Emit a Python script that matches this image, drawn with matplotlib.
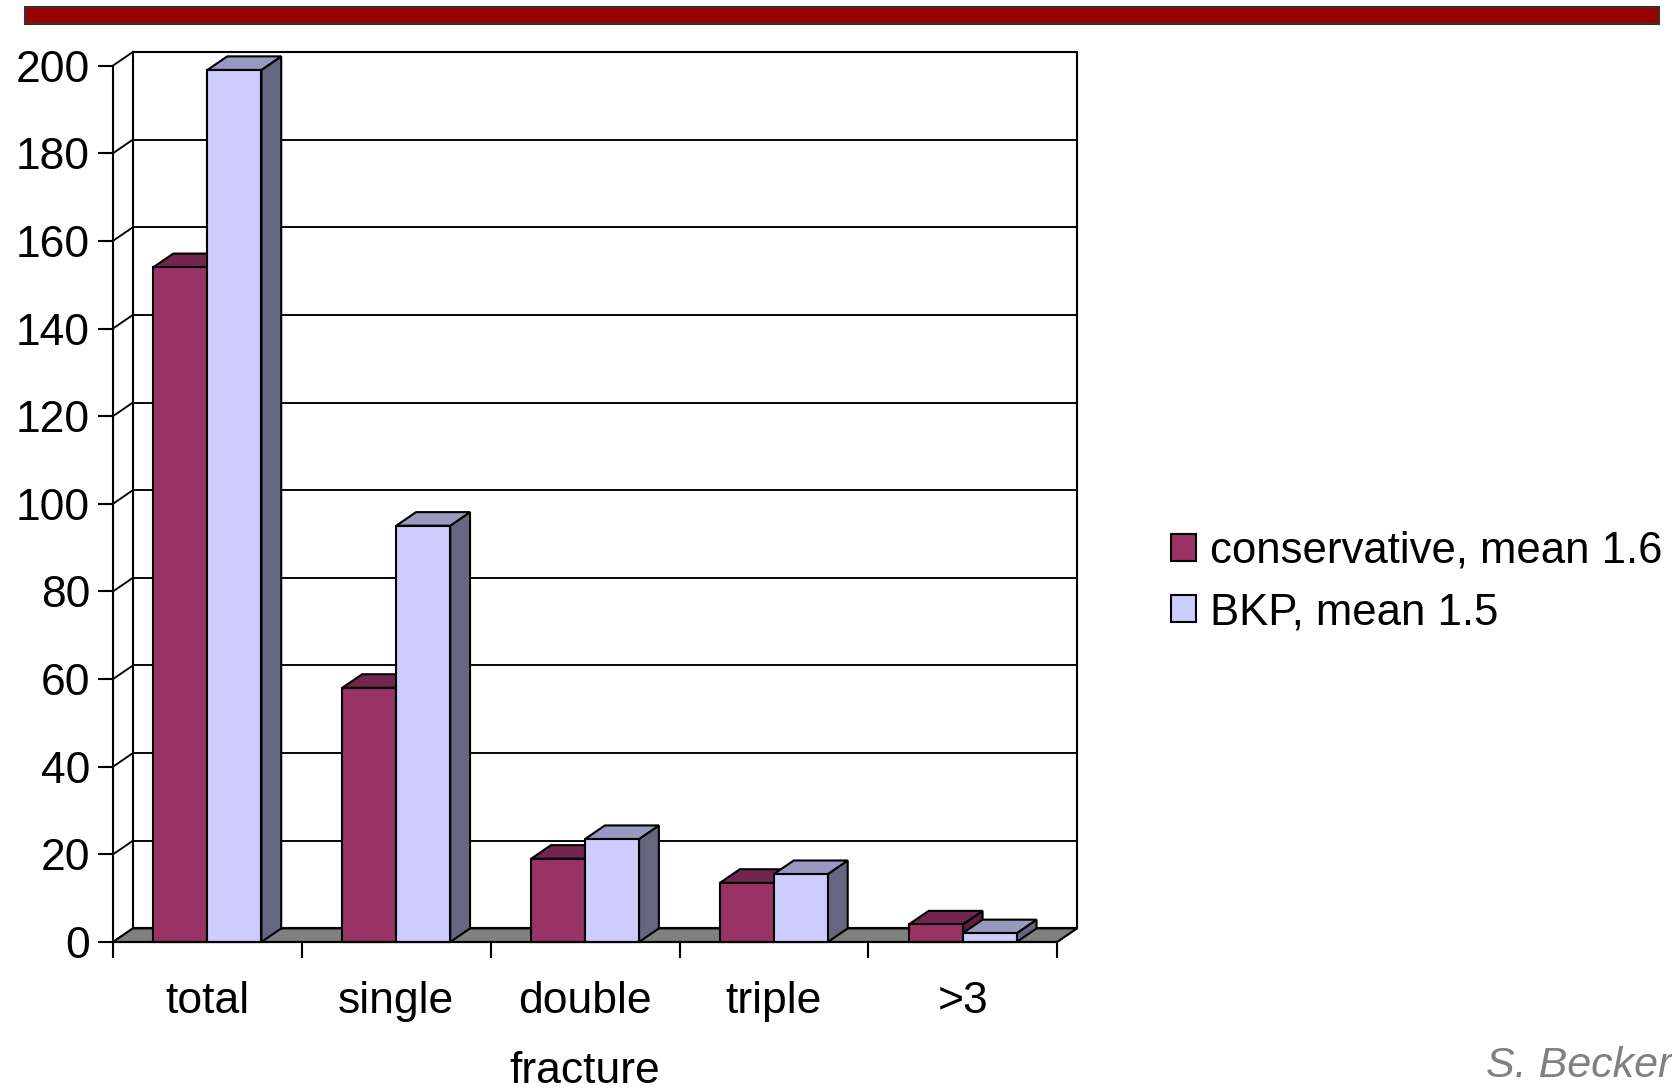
import matplotlib
matplotlib.use('Agg')
import matplotlib.pyplot as plt
from matplotlib.patches import Polygon, Rectangle, Patch
import numpy as np

# ---- data ----
categories = ['total', 'single', 'double', 'triple', '>3']
conservative = [154, 58, 19, 13.5, 4]
bkp = [199, 95, 23.5, 15.5, 2]
series_labels = ['conservative, mean 1.6', 'BKP, mean 1.5']
y_ticks = [0, 20, 40, 60, 80, 100, 120, 140, 160, 180, 200]
x_title = 'fracture'
credit = 'S. Becker'

# ---- style ----
plt.rcParams['font.family'] = ['Liberation Sans', 'DejaVu Sans']
FS = 32
PX = 72 / 100  # points per pixel at dpi 100

face_cols = ['#993366', '#CCCCFF']
top_cols = ['#73264D', '#9999C0']
side_cols = ['#5C1F3D', '#666680']
EC = 'black'
LW = 1.5 * PX * 1.4

fig = plt.figure(figsize=(16.72, 10.90), dpi=100)
ax = fig.add_axes([113 / 1672, 148 / 1090, 964 / 1672, 890 / 1090])

n = len(categories)
DX, DY = 0.105, 3.1
ymax = y_ticks[-1]
ax.set_xlim(0, n + DX)
ax.set_ylim(0, ymax + DY)
ax.patch.set_visible(False)

# back wall
ax.add_patch(Rectangle((DX, DY), n, ymax, facecolor='white', edgecolor=EC,
                       lw=LW, zorder=1, clip_on=False))
# gridlines on back wall
for v in y_ticks[1:-1]:
    ax.plot([DX, n + DX], [v + DY, v + DY], color=EC, lw=LW * 0.9, zorder=1.1,
            clip_on=False)
# side wall diagonals
for v in y_ticks:
    ax.plot([0, DX], [v, v + DY], color=EC, lw=LW * 0.9, zorder=1.1, clip_on=False)
# floor
ax.add_patch(Polygon([(0, 0), (n, 0), (n + DX, DY), (DX, DY)], closed=True,
                     facecolor='#808080', edgecolor=EC, lw=LW, zorder=1.5,
                     clip_on=False))

# bars
w = 1 / 3.5
half_gap = 0.75 / 3.5
series = [conservative, bkp]
for i in range(n):
    for s, vals in enumerate(series):
        x0 = i + half_gap + s * w
        v = vals[i]
        # side face
        ax.add_patch(Polygon([(x0 + w, 0), (x0 + w + DX, DY), (x0 + w + DX, v + DY),
                              (x0 + w, v)], closed=True, facecolor=side_cols[s],
                             edgecolor=EC, lw=LW, zorder=2, clip_on=False))
        # top face
        ax.add_patch(Polygon([(x0, v), (x0 + w, v), (x0 + w + DX, v + DY),
                              (x0 + DX, v + DY)], closed=True, facecolor=top_cols[s],
                             edgecolor=EC, lw=LW, zorder=2, clip_on=False))
        # front face
        ax.add_patch(Rectangle((x0, 0), w, v, facecolor=face_cols[s], edgecolor=EC,
                               lw=LW, zorder=2, clip_on=False))

# axes lines & ticks
for sp in ['top', 'right']:
    ax.spines[sp].set_visible(False)
ax.spines['left'].set_bounds(0, ymax)
ax.spines['bottom'].set_bounds(0, n)
for sp in ['left', 'bottom']:
    ax.spines[sp].set_linewidth(LW)
    ax.spines[sp].set_color(EC)
    ax.spines[sp].set_zorder(3)

ax.set_yticks(y_ticks)
ax.set_yticklabels([str(t) for t in y_ticks])
ax.tick_params(axis='y', length=15 * PX, width=LW, pad=8 * PX, labelsize=FS,
               colors='black')
ax.set_xticks(range(n + 1))
ax.set_xticklabels([])
ax.set_xticks(np.arange(n) + 0.5, minor=True)
ax.set_xticklabels(categories, minor=True)
ax.tick_params(axis='x', which='major', length=16 * PX, width=LW)
ax.tick_params(axis='x', which='minor', length=0, pad=28, labelsize=FS)
ax.set_xlabel(x_title, fontsize=FS, labelpad=21)
ax.xaxis.label.set_x((n / 2) / (n + DX))

# legend
handles = [Patch(facecolor=face_cols[k], edgecolor=EC, lw=LW) for k in range(2)]
fig.legend(handles=handles, labels=series_labels, loc='center left',
           bbox_to_anchor=(1171 / 1672, 1 - 582 / 1090), frameon=False,
           fontsize=31.5, handlelength=0.56, handleheight=0.56, handletextpad=0.33,
           labelspacing=0.46, borderpad=0, borderaxespad=0)

# decorations
fig.add_artist(Rectangle((25 / 1672, 1 - 24 / 1090), (1659 - 25) / 1672, 17 / 1090,
                         facecolor='#990000', edgecolor='#333333', lw=1.5,
                         transform=fig.transFigure))
fig.text(1.0, 1 - 1077 / 1090, credit, ha='right', va='baseline', style='italic',
         color='#808080', fontsize=31)

fig.savefig('out.png', dpi=100)
